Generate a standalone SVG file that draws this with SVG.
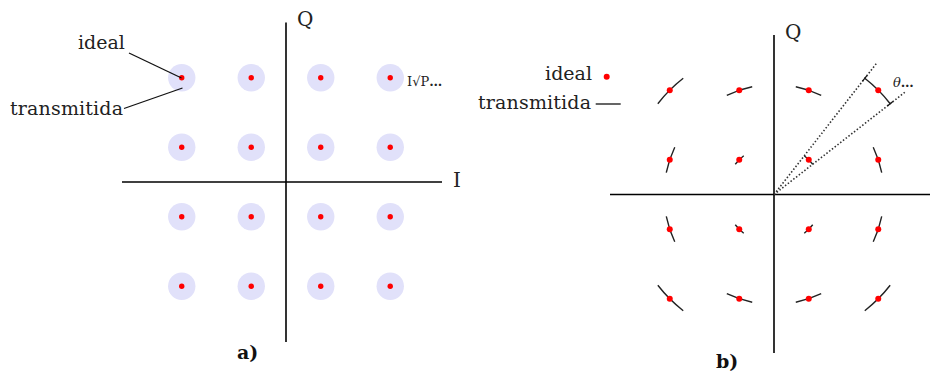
<svg xmlns="http://www.w3.org/2000/svg" width="937" height="371" viewBox="0 0 937 371">
<style>
.axis{stroke:#000;stroke-width:1.6;fill:none}
.lead{stroke:#111;stroke-width:1.3;fill:none}
.halo{fill:#e1e1fa}
.dot{fill:#ff0000}
.arc{stroke:#222;stroke-width:1.4;fill:none}
.dotted{stroke:#333;stroke-width:1.6;fill:none;stroke-dasharray:1.5 2}
.lbl{font-family:"DejaVu Serif",serif;font-size:19px;fill:#222}
.ax{font-family:"DejaVu Serif",serif;font-size:20px;fill:#222}
.small{font-family:"DejaVu Serif",serif;font-size:13px;fill:#222}
.cap{font-family:"DejaVu Serif",serif;font-size:19px;font-weight:bold;fill:#111}
</style>
<rect width="937" height="371" fill="#fff"/>

<!-- Panel a -->
<g id="panel-a-axes">
<line class="axis" x1="286" y1="22.5" x2="286" y2="342"/>
<line class="axis" x1="122" y1="182" x2="442" y2="182"/>
<text class="ax" x="297" y="26">Q</text>
<text class="ax" x="453" y="187">I</text>
</g>
<g id="panel-a-points">
<circle class="halo" cx="181.75" cy="77.75" r="13.7"/><circle class="halo" cx="251.25" cy="77.75" r="13.7"/><circle class="halo" cx="320.75" cy="77.75" r="13.7"/><circle class="halo" cx="390.25" cy="77.75" r="13.7"/>
<circle class="halo" cx="181.75" cy="147.25" r="13.7"/><circle class="halo" cx="251.25" cy="147.25" r="13.7"/><circle class="halo" cx="320.75" cy="147.25" r="13.7"/><circle class="halo" cx="390.25" cy="147.25" r="13.7"/>
<circle class="halo" cx="181.75" cy="216.75" r="13.7"/><circle class="halo" cx="251.25" cy="216.75" r="13.7"/><circle class="halo" cx="320.75" cy="216.75" r="13.7"/><circle class="halo" cx="390.25" cy="216.75" r="13.7"/>
<circle class="halo" cx="181.75" cy="286.25" r="13.7"/><circle class="halo" cx="251.25" cy="286.25" r="13.7"/><circle class="halo" cx="320.75" cy="286.25" r="13.7"/><circle class="halo" cx="390.25" cy="286.25" r="13.7"/>
<circle class="dot" cx="181.75" cy="77.75" r="2.7"/><circle class="dot" cx="251.25" cy="77.75" r="2.7"/><circle class="dot" cx="320.75" cy="77.75" r="2.7"/><circle class="dot" cx="390.25" cy="77.75" r="2.7"/>
<circle class="dot" cx="181.75" cy="147.25" r="2.7"/><circle class="dot" cx="251.25" cy="147.25" r="2.7"/><circle class="dot" cx="320.75" cy="147.25" r="2.7"/><circle class="dot" cx="390.25" cy="147.25" r="2.7"/>
<circle class="dot" cx="181.75" cy="216.75" r="2.7"/><circle class="dot" cx="251.25" cy="216.75" r="2.7"/><circle class="dot" cx="320.75" cy="216.75" r="2.7"/><circle class="dot" cx="390.25" cy="216.75" r="2.7"/>
<circle class="dot" cx="181.75" cy="286.25" r="2.7"/><circle class="dot" cx="251.25" cy="286.25" r="2.7"/><circle class="dot" cx="320.75" cy="286.25" r="2.7"/><circle class="dot" cx="390.25" cy="286.25" r="2.7"/>
</g>
<g id="panel-a-labels">
<line class="lead" x1="129" y1="53" x2="181.5" y2="78"/>
<line class="lead" x1="124" y1="108.5" x2="182.5" y2="88"/>
<text class="lbl" x="78" y="48.5">ideal</text>
<text class="lbl" x="10" y="115" textLength="113" lengthAdjust="spacing">transmitida</text>
<text class="small" x="407" y="86">I√P<tspan font-weight="bold">…</tspan></text>
<text class="cap" x="237" y="359">a)</text>
</g>

<!-- Panel b -->
<g id="panel-b-axes">
<line class="axis" x1="774" y1="35" x2="774" y2="353"/>
<line class="axis" x1="610" y1="194.5" x2="930" y2="194.5"/>
<text class="ax" x="785" y="39">Q</text>
</g>
<g id="panel-b-connectors">
<line class="dotted" x1="774" y1="194.5" x2="876.2" y2="63.7"/>
<line class="dotted" x1="774" y1="194.5" x2="904.8" y2="92.3"/>
<line class="lead" x1="862.6" y1="81.1" x2="866.9" y2="75.6"/>
<line class="lead" x1="887.4" y1="105.9" x2="892.9" y2="101.6"/>
</g>
<g id="panel-b-arcs">
<path class="arc" d="M657.82,103.73 A147.43,147.43 0 0 1 683.23,78.32"/>
<path class="arc" d="M726.80,95.26 A109.89,109.89 0 0 1 752.21,86.79"/>
<path class="arc" d="M795.79,86.79 A109.89,109.89 0 0 1 821.20,95.26"/>
<path class="arc" d="M864.77,78.32 A147.43,147.43 0 0 1 890.18,103.73"/>
<path class="arc" d="M666.29,172.71 A109.89,109.89 0 0 1 674.76,147.30"/>
<path class="arc" d="M735.27,164.24 A49.14,49.14 0 0 1 743.74,155.77"/>
<path class="arc" d="M804.26,155.77 A49.14,49.14 0 0 1 812.73,164.24"/>
<path class="arc" d="M873.24,147.30 A109.89,109.89 0 0 1 881.71,172.71"/>
<path class="arc" d="M674.76,241.70 A109.89,109.89 0 0 1 666.29,216.29"/>
<path class="arc" d="M743.74,233.23 A49.14,49.14 0 0 1 735.27,224.76"/>
<path class="arc" d="M812.73,224.76 A49.14,49.14 0 0 1 804.26,233.23"/>
<path class="arc" d="M881.71,216.29 A109.89,109.89 0 0 1 873.24,241.70"/>
<path class="arc" d="M683.23,310.68 A147.43,147.43 0 0 1 657.82,285.27"/>
<path class="arc" d="M752.21,302.21 A109.89,109.89 0 0 1 726.80,293.74"/>
<path class="arc" d="M821.20,293.74 A109.89,109.89 0 0 1 795.79,302.21"/>
<path class="arc" d="M890.18,285.27 A147.43,147.43 0 0 1 864.77,310.68"/>
</g>
<g id="panel-b-points">
<circle class="dot" cx="669.75" cy="90.25" r="3"/><circle class="dot" cx="739.25" cy="90.25" r="3"/><circle class="dot" cx="808.75" cy="90.25" r="3"/><circle class="dot" cx="878.25" cy="90.25" r="3"/>
<circle class="dot" cx="669.75" cy="159.75" r="3"/><circle class="dot" cx="739.25" cy="159.75" r="3"/><circle class="dot" cx="808.75" cy="159.75" r="3"/><circle class="dot" cx="878.25" cy="159.75" r="3"/>
<circle class="dot" cx="669.75" cy="229.25" r="3"/><circle class="dot" cx="739.25" cy="229.25" r="3"/><circle class="dot" cx="808.75" cy="229.25" r="3"/><circle class="dot" cx="878.25" cy="229.25" r="3"/>
<circle class="dot" cx="669.75" cy="298.75" r="3"/><circle class="dot" cx="739.25" cy="298.75" r="3"/><circle class="dot" cx="808.75" cy="298.75" r="3"/><circle class="dot" cx="878.25" cy="298.75" r="3"/>
</g>
<g id="panel-b-labels">
<text class="lbl" x="592" y="79.5" text-anchor="end">ideal</text>
<circle class="dot" cx="606.7" cy="76.7" r="3"/>
<text class="lbl" x="591" y="109" text-anchor="end" textLength="113" lengthAdjust="spacing">transmitida</text>
<line class="lead" x1="595.7" y1="104" x2="620.7" y2="104"/>
<text class="small" x="893" y="87" font-style="italic">θ<tspan font-style="normal" font-weight="bold">…</tspan></text>
<text class="cap" x="716" y="368">b)</text>
</g>
</svg>
